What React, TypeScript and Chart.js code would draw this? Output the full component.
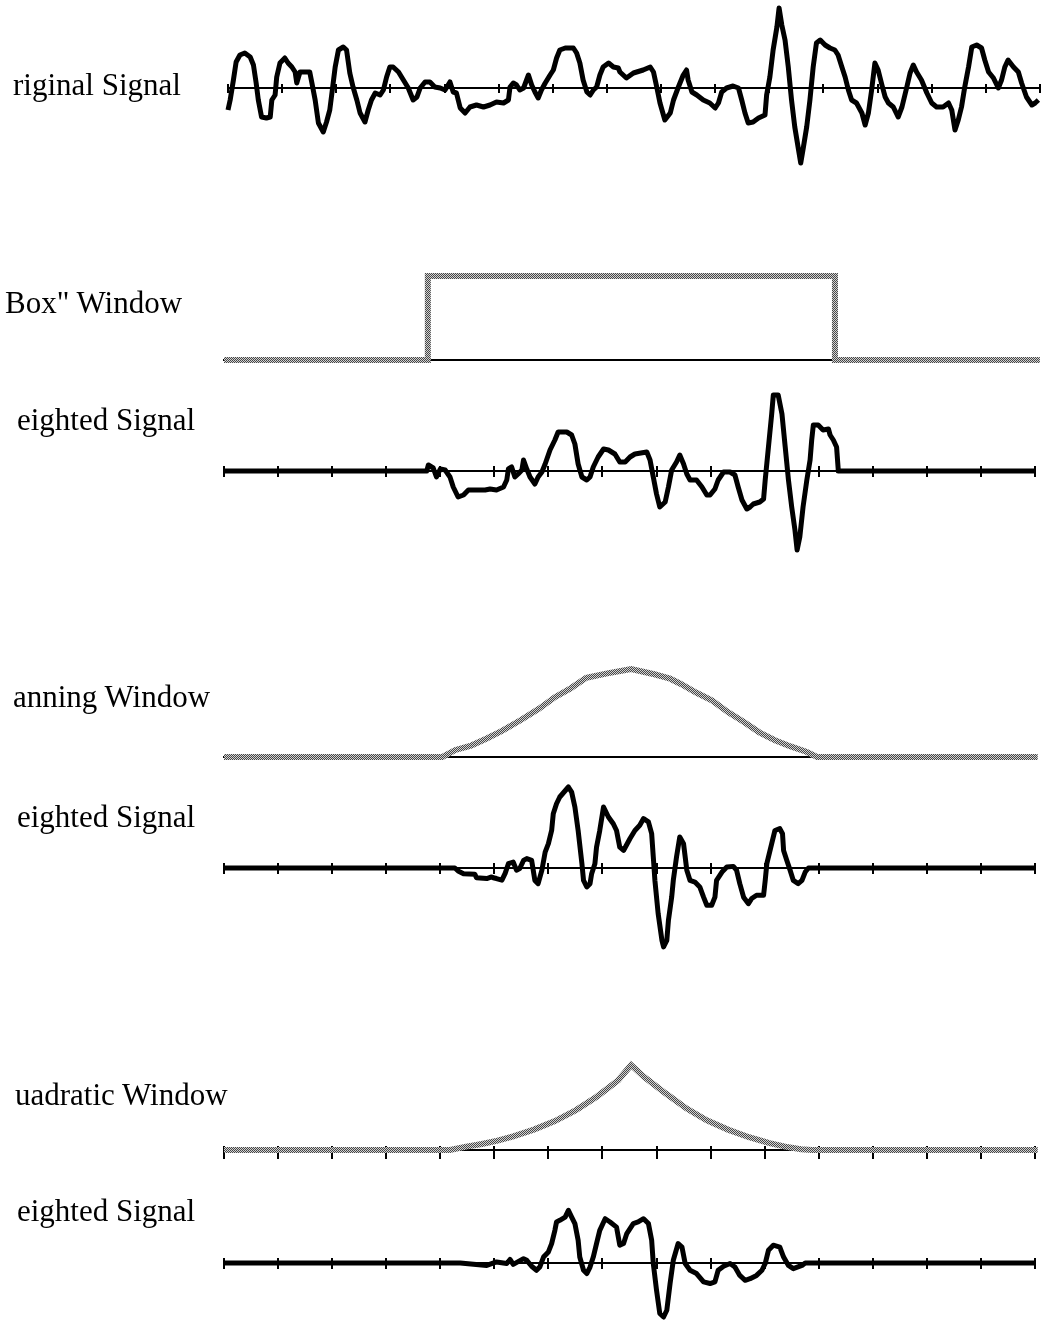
import React, { useEffect, useRef } from "react";
import { Chart, registerables } from "chart.js";

Chart.register(...registerables);

type Pt = [number, number];

// Shared time axis: 15 divisions
const TIME_MIN = 0;
const TIME_MAX = 150;
const TIME_STEP = 10;

const LABEL_ORIGINAL = "riginal Signal";
const LABEL_BOX = "Box\" Window";
const LABEL_HANNING = "anning Window";
const LABEL_QUADRATIC = "uadratic Window";
const LABEL_WEIGHTED = "eighted Signal";

// Raw signal [time, amplitude]
const ORIGINAL_SIGNAL: Pt[] = [
  [0, -2.2], [0.4, -1.2], [1.0, 0.8], [1.5, 2.6], [2.2, 3.3], [3.1, 3.5], [4.1, 3.1], [4.7, 2.3], [5.2, 0.5], [5.6, -1.2],
  [6.2, -2.9], [7.1, -3.0], [7.8, -2.9], [8.1, -1.2], [8.7, -0.7], [9.0, 1.1], [9.6, 2.5], [10.5, 3.0], [11.1, 2.5], [11.8, 2.1],
  [12.4, 1.6], [12.7, 0.5], [13.3, 1.6], [14.2, 1.6], [15.1, 1.6], [15.5, 0.5], [16.1, -1.2], [16.7, -3.5], [17.6, -4.4], [18.2, -3.4],
  [18.8, -2.2], [19.2, -0.5], [19.8, 2.1], [20.4, 3.8], [21.3, 4.1], [21.9, 3.8], [22.5, 1.5], [23.1, 0.1], [23.8, -1.2], [24.4, -2.5],
  [25.3, -3.4], [25.9, -2.2], [26.5, -1.2], [27.2, -0.5], [28.1, -0.7], [28.7, -0.2], [29.3, 1.1], [29.9, 2.1], [30.5, 2.1], [31.5, 1.6],
  [32.4, 0.8], [33.3, 0.0], [34.2, -1.2], [34.9, -0.9], [35.5, 0.0], [36.4, 0.6], [37.3, 0.6], [38.2, 0.1], [39.2, 0.0], [40.1, -0.2],
  [41.0, 0.6], [41.6, -0.4], [42.2, -0.5], [42.9, -2.0], [43.8, -2.5], [44.7, -1.9], [45.9, -1.7], [47.2, -1.9], [48.4, -1.7], [49.6, -1.4],
  [50.9, -1.5], [51.8, -1.2], [52.1, 0.1], [52.7, 0.5], [53.3, 0.3], [53.9, -0.2], [54.6, 0.0], [55.5, 1.3], [56.1, 0.3], [56.7, -0.4],
  [57.3, -1.0], [57.9, -0.2], [58.6, 0.5], [59.5, 1.3], [60.1, 1.8], [60.7, 3.0], [61.3, 3.8], [62.3, 4.0], [63.8, 4.0], [64.4, 3.5],
  [65.0, 2.5], [65.6, 0.8], [66.3, -0.4], [66.9, -0.7], [67.5, -0.2], [68.1, 0.1], [68.7, 1.3], [69.3, 2.1], [70.3, 2.5], [71.2, 2.1],
  [72.1, 2.0], [72.4, 1.6], [73.6, 1.0], [74.9, 1.5], [76.7, 1.8], [78.0, 2.1], [78.6, 1.6], [79.2, 0.1], [79.8, -1.5], [80.7, -3.2],
  [81.7, -2.5], [82.3, -1.2], [83.2, 0.1], [84.1, 1.3], [84.7, 1.8], [85.0, 0.8], [85.7, -0.4], [86.6, -0.7], [87.8, -1.2], [89.0, -1.5],
  [90.0, -2.0], [90.6, -1.5], [91.2, -0.4], [92.1, 0.0], [93.3, 0.2], [94.3, 0.0], [94.9, -1.2], [95.5, -2.5], [96.1, -3.5], [97.0, -3.4],
  [98.0, -3.0], [99.2, -2.7], [99.5, -0.7], [100.1, 1.1], [100.7, 3.8], [101.4, 6.1], [101.8, 8.0], [102.3, 6.3], [102.9, 4.8], [103.5, 2.1],
  [104.1, -1.2], [104.7, -3.9], [105.4, -6.2], [105.8, -7.5], [106.3, -5.9], [106.9, -3.9], [107.5, -1.2], [108.1, 2.1], [108.7, 4.5], [109.4, 4.8],
  [110.3, 4.3], [111.2, 4.0], [112.1, 3.8], [112.7, 3.3], [113.4, 2.1], [114.0, 1.1], [114.6, -0.2], [115.2, -1.2], [116.1, -1.5], [117.1, -2.5],
  [117.7, -3.7], [118.3, -2.5], [118.9, -0.2], [119.5, 2.5], [120.1, 1.8], [120.8, 0.3], [121.4, -0.9], [122.0, -1.5], [122.9, -1.9], [123.8, -2.9],
  [124.5, -1.9], [125.4, 0.1], [126.0, 1.5], [126.6, 2.3], [127.2, 1.6], [128.1, 0.8], [129.1, -0.5], [130.0, -1.5], [130.9, -1.9], [132.1, -1.9],
  [133.1, -1.5], [133.7, -2.2], [134.3, -4.2], [134.9, -3.2], [135.5, -1.9], [136.1, 0.1], [136.8, 2.1], [137.4, 4.1], [138.3, 4.3], [139.2, 4.0],
  [139.8, 2.8], [140.5, 1.6], [141.4, 1.0], [142.3, 0.0], [142.9, 0.8], [143.5, 2.1], [144.1, 2.8], [145.1, 2.1], [146.0, 1.6], [146.6, 0.5],
  [147.5, -0.9], [148.5, -1.7], [149.1, -1.5], [149.7, -1.2],
];

// Window functions [time, weight]
const BOX_WINDOW: Pt[] = [[0, 0], [37.7, 0], [37.7, 1], [113.0, 1], [113.0, 0], [150.9, 0]];

const HANNING_WINDOW: Pt[] = [
  [0, 0], [40.4, 0], [42.8, 0.08], [45.7, 0.13], [48.6, 0.21], [51.5, 0.3], [54.9, 0.42], [58.3, 0.55], [61.2, 0.68],
  [64.1, 0.78], [67.0, 0.9], [70.9, 0.95], [75.3, 1.0], [79.6, 0.94], [82.5, 0.89], [84.5, 0.83], [87.4, 0.73], [90.3, 0.64],
  [93.2, 0.51], [96.1, 0.4], [99.0, 0.28], [101.9, 0.19], [104.8, 0.12], [107.7, 0.06], [109.7, 0], [150.5, 0],
];

const QUADRATIC_WINDOW: Pt[] = [
  [0, 0], [41.8, 0], [44.8, 0.04], [47.7, 0.07], [50.6, 0.11], [53.5, 0.16], [57.3, 0.24], [61.2, 0.34], [65.1, 0.47],
  [69.0, 0.63], [72.9, 0.82], [75.3, 1.0], [77.7, 0.86], [81.6, 0.67], [85.5, 0.49], [89.3, 0.35], [93.2, 0.24], [97.1, 0.15],
  [100.9, 0.08], [103.8, 0.04], [106.7, 0.01], [108.7, 0], [150.5, 0],
];

// Signal after each window is applied [time, amplitude]
const BOX_WEIGHTED: Pt[] = [
  [0, 0], [37.5, 0], [37.8, 0.6], [38.7, 0.3], [39.3, -0.6], [40.0, 0.2], [40.9, 0.1], [41.8, -0.6], [42.4, -1.6], [43.3, -2.6],
  [44.3, -2.4], [45.2, -1.9], [46.7, -1.9], [48.3, -1.9], [49.2, -1.8], [50.4, -1.9], [51.7, -1.6], [52.3, -0.9], [52.6, 0.2], [53.2, 0.4],
  [53.8, -0.6], [54.4, -0.3], [55.1, 0.1], [55.4, 1.1], [56.0, 0.2], [56.6, -0.6], [57.5, -1.3], [58.1, -0.6], [58.8, -0.1], [59.4, 0.7],
  [60.3, 2.1], [61.2, 3.1], [61.8, 3.9], [63.4, 3.9], [64.3, 3.6], [64.9, 2.7], [65.5, 0.7], [66.2, -0.6], [67.1, -0.9], [67.7, -0.6],
  [68.3, 0.4], [69.2, 1.4], [70.2, 2.2], [71.1, 2.1], [72.3, 1.7], [73.2, 0.9], [74.2, 0.9], [75.1, 1.4], [76.0, 1.7], [78.2, 1.9],
  [78.8, 1.1], [79.4, -0.6], [80.0, -2.3], [80.6, -3.6], [81.6, -3.1], [82.2, -1.6], [82.8, 0.1], [83.7, 0.9], [84.3, 1.6], [85.0, 0.7],
  [85.6, -0.3], [86.2, -0.9], [87.4, -0.9], [88.4, -1.6], [89.3, -2.4], [89.9, -2.4], [90.8, -1.8], [91.4, -0.9], [92.4, -0.1], [93.6, -0.1],
  [94.5, -0.4], [95.1, -1.6], [95.8, -2.9], [96.7, -3.8], [97.3, -3.6], [97.9, -3.3], [99.1, -3.1], [99.8, -2.8], [100.1, -0.9], [100.7, 2.4],
  [101.3, 5.7], [101.6, 7.6], [102.5, 7.6], [103.2, 5.7], [103.8, 2.4], [104.4, -0.9], [105.0, -3.6], [105.6, -5.9], [106.0, -7.9], [106.5, -6.6],
  [107.1, -3.6], [107.8, -0.9], [108.4, 1.1], [108.7, 3.1], [109.0, 4.6], [109.9, 4.6], [110.8, 4.1], [111.8, 4.2], [112.1, 3.6], [112.7, 3.1],
  [113.3, 2.4], [113.6, 0.2], [113.6, 0], [150, 0],
];

const HANNING_WEIGHTED: Pt[] = [
  [0, 0], [42.7, 0], [43.3, -0.11], [44.3, -0.21], [46.4, -0.23], [46.7, -0.36], [48.6, -0.39], [49.5, -0.33], [49.8, -0.36], [50.4, -0.39],
  [51.4, -0.45], [52.0, -0.2], [52.6, 0.16], [53.5, 0.22], [54.1, -0.08], [54.7, -0.02], [55.4, 0.28], [56.0, 0.35], [56.9, 0.28], [57.5, -0.46],
  [58.1, -0.58], [58.8, -0.08], [59.4, 0.59], [60.0, 0.9], [60.6, 1.39], [60.9, 2.01], [61.5, 2.38], [62.1, 2.63], [63.7, 3.0], [64.3, 2.81],
  [64.9, 2.26], [65.5, 1.39], [66.2, 0.16], [66.5, -0.46], [67.1, -0.7], [67.7, -0.58], [68.0, -0.21], [68.6, 0.16], [68.9, 0.77], [69.5, 1.39],
  [70.2, 2.26], [71.1, 1.89], [72.0, 1.64], [72.6, 1.39], [73.2, 0.77], [73.9, 0.65], [75.1, 1.09], [76.0, 1.39], [76.9, 1.58], [77.6, 1.83],
  [78.5, 1.71], [79.1, 1.27], [79.4, 0.41], [79.7, -0.46], [80.3, -1.69], [81.0, -2.68], [81.3, -2.92], [81.9, -2.68], [82.2, -1.94], [82.8, -1.08],
  [83.1, -0.46], [83.7, 0.41], [84.3, 1.15], [85.0, 0.9], [85.6, -0.08], [86.2, -0.46], [87.1, -0.52], [88.0, -0.7], [88.7, -1.08], [89.3, -1.38],
  [90.2, -1.38], [90.8, -1.08], [91.1, -0.46], [92.1, -0.15], [93.0, 0.04], [94.2, 0.06], [94.8, -0.08], [95.4, -0.58], [96.1, -1.08], [97.0, -1.32],
  [97.6, -1.13], [98.5, -1.01], [99.8, -1.01], [100.1, -0.46], [100.4, 0.16], [101.3, 0.9], [101.9, 1.39], [102.8, 1.46], [103.3, 1.27], [103.5, 0.65],
  [104.1, 0.28], [104.7, -0.08], [105.3, -0.46], [106.2, -0.58], [106.9, -0.46], [107.5, -0.15], [108.1, 0], [150, 0],
];

const QUADRATIC_WEIGHTED: Pt[] = [
  [0, 0], [43.7, 0], [48.6, -0.09], [50.4, 0.04], [52.3, -0.02], [52.9, 0.13], [53.5, -0.05], [55.4, 0.16], [56.0, 0.1], [56.9, -0.12],
  [57.8, -0.27], [58.4, -0.15], [59.1, 0.22], [60.0, 0.41], [60.6, 0.72], [61.2, 1.21], [61.5, 1.52], [62.1, 1.58], [63.1, 1.7], [63.7, 1.95],
  [64.3, 1.7], [64.9, 1.46], [65.5, 0.84], [65.8, 0.22], [66.5, -0.27], [67.1, -0.39], [67.7, -0.15], [68.3, 0.22], [68.9, 0.72], [69.5, 1.21],
  [70.5, 1.64], [71.4, 1.52], [72.6, 1.33], [73.2, 0.66], [73.9, 0.72], [74.5, 1.09], [75.7, 1.46], [76.6, 1.52], [77.6, 1.64], [78.5, 1.46],
  [79.1, 0.84], [79.4, -0.02], [80.0, -1.01], [80.6, -1.87], [81.3, -2.0], [81.9, -1.75], [82.5, -0.77], [83.1, 0.1], [84.0, 0.72], [84.7, 0.59],
  [85.3, -0.02], [86.2, -0.27], [87.4, -0.39], [88.7, -0.7], [89.9, -0.76], [90.8, -0.7], [91.4, -0.27], [92.4, -0.12], [93.6, -0.02], [94.5, -0.15],
  [95.4, -0.46], [96.4, -0.64], [97.3, -0.58], [98.5, -0.46], [99.5, -0.27], [100.1, -0.02], [100.7, 0.47], [101.6, 0.66], [102.8, 0.59], [103.5, 0.22],
  [104.4, -0.09], [105.3, -0.21], [106.9, -0.09], [107.5, 0], [150, 0],
];

const PAGE_W = 1043;
const PAGE_H = 1321;
const HALF = 100; // half height of each strip canvas
const PAD = 10;

type Panel = {
  key: string;
  series: Pt[];
  kind: "signal" | "window";
  zeroY: number; // page y of the zero line
  left: number; // page x of TIME_MIN
  right: number; // page x of TIME_MAX
  unitPx: number; // pixels per amplitude unit
  tickUp: number;
  tickDown: number;
};

const PANELS: Panel[] = [
  { key: "orig", series: ORIGINAL_SIGNAL, kind: "signal", zeroY: 88, left: 228, right: 1040, unitPx: 10, tickUp: 4, tickDown: 4 },
  { key: "box", series: BOX_WINDOW, kind: "window", zeroY: 360, left: 224, right: 1035, unitPx: 84, tickUp: 0, tickDown: 0 },
  { key: "boxW", series: BOX_WEIGHTED, kind: "signal", zeroY: 471, left: 224, right: 1035, unitPx: 10, tickUp: 5, tickDown: 5 },
  { key: "hann", series: HANNING_WINDOW, kind: "window", zeroY: 757, left: 224, right: 1035, unitPx: 88, tickUp: 0, tickDown: 0 },
  { key: "hannW", series: HANNING_WEIGHTED, kind: "signal", zeroY: 868, left: 224, right: 1035, unitPx: 27, tickUp: 5, tickDown: 5 },
  { key: "quad", series: QUADRATIC_WINDOW, kind: "window", zeroY: 1150, left: 224, right: 1035, unitPx: 85, tickUp: 4, tickDown: 8 },
  { key: "quadW", series: QUADRATIC_WEIGHTED, kind: "signal", zeroY: 1263, left: 224, right: 1035, unitPx: 27, tickUp: 5, tickDown: 5 },
];

const TEXTS = [
  { text: LABEL_ORIGINAL, x: 13, baseline: 95 },
  { text: LABEL_BOX, x: 5, baseline: 313 },
  { text: LABEL_WEIGHTED, x: 17, baseline: 430 },
  { text: LABEL_HANNING, x: 13, baseline: 707 },
  { text: LABEL_WEIGHTED, x: 17, baseline: 827 },
  { text: LABEL_QUADRATIC, x: 15, baseline: 1105 },
  { text: LABEL_WEIGHTED, x: 17, baseline: 1221 },
];

const FONT_PX = 31;

// Fine checkerboard grey used for the window curves
function ditherPattern(ctx: CanvasRenderingContext2D): CanvasPattern | string {
  const pc = document.createElement("canvas");
  pc.width = 2;
  pc.height = 2;
  const p = pc.getContext("2d");
  if (!p) return "#999";
  p.fillStyle = "#d2d2d2";
  p.fillRect(0, 0, 2, 2);
  p.fillStyle = "#474747";
  p.fillRect(0, 0, 1, 1);
  p.fillRect(1, 1, 1, 1);
  return ctx.createPattern(pc, "repeat") || "#999";
}

function Strip({ panel }: { panel: Panel }) {
  const ref = useRef<HTMLCanvasElement | null>(null);

  useEffect(() => {
    const canvas = ref.current;
    if (!canvas) return;
    const ctx = canvas.getContext("2d");
    if (!ctx) return;
    const span = (HALF - PAD) / panel.unitPx;
    const isWindow = panel.kind === "window";
    const color = isWindow ? ditherPattern(ctx) : "#000000";
    const hideHeight = (s: any) => {
      s.height = 0;
    };

    const chart = new Chart(canvas, {
      type: "line",
      data: {
        datasets: [
          {
            data: panel.series.map(([x, y]) => ({ x, y })),
            borderColor: color as any,
            borderWidth: isWindow ? 6 : 5,
            pointRadius: 0,
            tension: 0,
            fill: false,
            clip: false as any,
            borderJoinStyle: isWindow ? "miter" : "round",
            borderCapStyle: "butt",
          },
        ],
      },
      options: {
        responsive: false,
        maintainAspectRatio: false,
        animation: false,
        devicePixelRatio: 1,
        events: [],
        layout: {
          padding: { left: panel.left, right: PAGE_W - panel.right, top: PAD, bottom: PAD },
        },
        plugins: { legend: { display: false }, tooltip: { enabled: false } },
        scales: {
          x: {
            type: "linear",
            min: TIME_MIN,
            max: TIME_MAX,
            position: { y: 0 } as any,
            ticks: { display: false, stepSize: TIME_STEP },
            grid: {
              display: panel.tickDown > 0,
              drawOnChartArea: false,
              drawTicks: true,
              tickLength: panel.tickDown,
              color: "#000000",
              lineWidth: 2,
            },
            border: { display: true, color: "#000000", width: 2 },
            afterFit: hideHeight,
          },
          xUp: {
            type: "linear",
            axis: "x",
            min: TIME_MIN,
            max: TIME_MAX,
            position: { y: 0 } as any,
            ticks: { display: false, stepSize: TIME_STEP },
            grid: {
              display: panel.tickUp > 0,
              drawOnChartArea: false,
              drawTicks: true,
              tickLength: -panel.tickUp,
              color: "#000000",
              lineWidth: 2,
            },
            border: { display: false },
            afterFit: hideHeight,
          } as any,
          y: { type: "linear", display: false, min: -span, max: span },
        },
      },
    });
    return () => chart.destroy();
  }, [panel]);

  return (
    <canvas
      ref={ref}
      width={PAGE_W}
      height={HALF * 2}
      style={{
        position: "absolute",
        left: 0,
        top: panel.zeroY - HALF,
        width: PAGE_W,
        height: HALF * 2,
      }}
    />
  );
}

export default function App() {
  return (
    <div
      style={{
        position: "absolute",
        left: 0,
        top: 0,
        width: PAGE_W,
        height: PAGE_H,
        overflow: "hidden",
        background: "#ffffff",
      }}
    >
      {PANELS.map((p) => (
        <Strip key={p.key} panel={p} />
      ))}
      {TEXTS.map((t, i) => (
        <div
          key={i}
          style={{
            position: "absolute",
            left: t.x,
            top: t.baseline - Math.round(FONT_PX * 0.8375),
            fontFamily: "'Liberation Serif', 'Times New Roman', serif",
            fontSize: FONT_PX,
            lineHeight: `${FONT_PX}px`,
            whiteSpace: "nowrap",
            color: "#000",
          }}
        >
          {t.text}
        </div>
      ))}
    </div>
  );
}
